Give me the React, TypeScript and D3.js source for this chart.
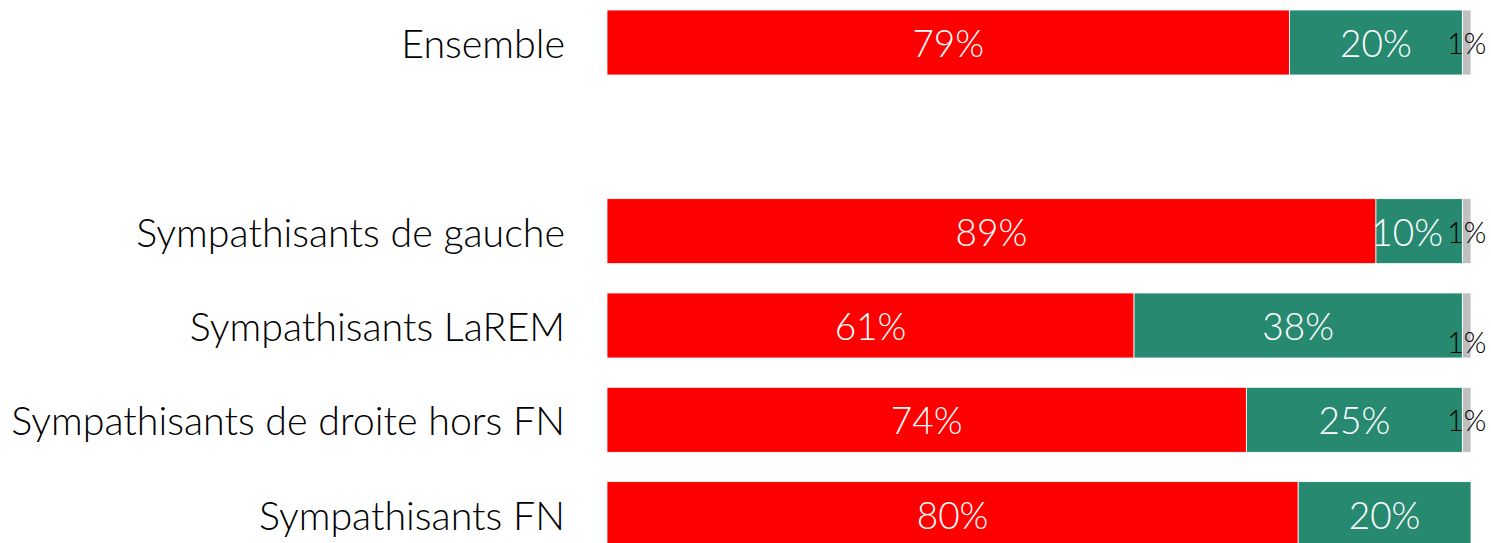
import React from "react";
import * as d3 from "d3";

const categories = [
  "Ensemble",
  "",
  "Sympathisants de gauche",
  "Sympathisants LaREM",
  "Sympathisants de droite hors FN",
  "Sympathisants FN",
];
const seriesKeys = ["oui", "non", "nsp"];
const ouiValues = [79, null, 89, 61, 74, 80];
const nonValues = [20, null, 10, 38, 25, 20];
const nspValues = [1, null, 1, 1, 1, 0];
// label nudges (style only)
const nspLabelDy = [0, 0, 0, 16, 0, 0];
const nonLabelDx = [0, 0, -12, 0, 0, 0];

const colors: Record<string, string> = { oui: "#FF0000", non: "#278A70", nsp: "#BFBFBF" };

const W = 1491;
const H = 543;
const FONT = "Lato, 'Open Sans', sans-serif";

export default function App() {
  const x = d3.scaleLinear().domain([0, 100]).range([607, 1471]);
  const step = 94.33;
  const y = d3
    .scaleBand<string>()
    .domain(categories.map((c, i) => String(i)))
    .range([10 - step * 0.1555, 10 - step * 0.1555 + step * 6])
    .paddingInner(0.311)
    .paddingOuter(0.1555);

  const stack = d3.stack<any>().keys(seriesKeys)(
    categories.map((c, i) => ({
      oui: ouiValues[i] ?? 0,
      non: nonValues[i] ?? 0,
      nsp: nspValues[i] ?? 0,
    }))
  );

  return (
    <svg
      width={W}
      height={H}
      style={{ position: "absolute", left: 0, top: 0, background: "#fff" }}
      fontFamily={FONT}
    >
      {categories.map((c, i) =>
        c ? (
          <text
            key={"cat" + i}
            x={565}
            y={(y(String(i)) as number) + y.bandwidth() / 2}
            textAnchor="end"
            dominantBaseline="central"
            fontSize={39.4}
            fontWeight={300}
            fill="#000"
          >
            {c}
          </text>
        ) : null
      )}
      {stack.map((s, si) =>
        s.map((d, i) => {
          if (ouiValues[i] === null) return null;
          const v = d[1] - d[0];
          if (v <= 0) return null;
          const key = seriesKeys[si];
          const y0 = y(String(i)) as number;
          const bw = y.bandwidth();
          const xm = (x(d[0]) + x(d[1])) / 2;
          const small = key === "nsp";
          return (
            <g key={key + i}>
              <rect
                x={x(d[0])}
                y={y0}
                width={x(d[1]) - x(d[0])}
                height={bw}
                fill={colors[key]}
                stroke="#fff"
                strokeWidth={0.8}
              />
              <text
                x={xm + (key === "non" ? nonLabelDx[i] : 0)}
                y={y0 + bw / 2 + (small ? nspLabelDy[i] : 0)}
                textAnchor="middle"
                dominantBaseline="central"
                fontSize={small ? 29 : 37}
                fontWeight={300}
                fill={small ? "#000" : "#fff"}
              >
                {v + "%"}
              </text>
            </g>
          );
        })
      )}
    </svg>
  );
}
